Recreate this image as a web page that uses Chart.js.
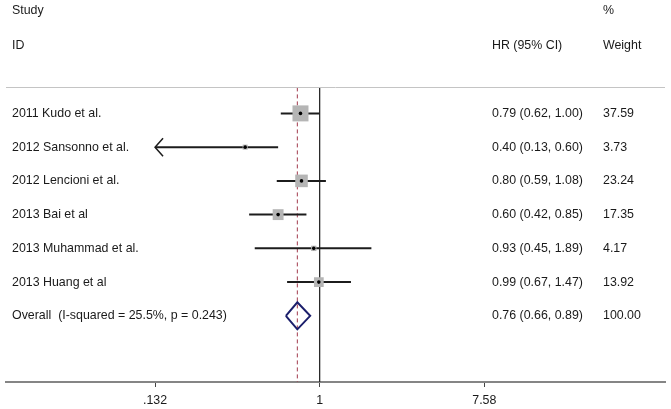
<!DOCTYPE html>
<html>
<head>
<meta charset="utf-8">
<script src="https://cdn.jsdelivr.net/npm/chart.js@4"></script>
<style>
  html, body { margin: 0; padding: 0; background: #fff; }
  #wrap { width: 671px; height: 409px; position: relative; }
</style>
</head>
<body>
<div id="wrap"><canvas id="forest"></canvas></div>
<script>
// study rows
const studies = [
  "2011 Kudo et al.",
  "2012 Sansonno et al.",
  "2012 Lencioni et al.",
  "2013 Bai et al",
  "2013 Muhammad et al.",
  "2013 Huang et al",
];
const hr = [0.79, 0.40, 0.80, 0.60, 0.93, 0.99];
const ciLow = [0.62, 0.13, 0.59, 0.42, 0.45, 0.67];
const ciHigh = [1.00, 0.60, 1.08, 0.85, 1.89, 1.47];
const weights = [37.59, 3.73, 23.24, 17.35, 4.17, 13.92];

// pooled estimate
const overallLabel = "Overall  (I-squared = 25.5%, p = 0.243)";
const overallHR = 0.76;
const overallLow = 0.66;
const overallHigh = 0.89;
const overallWeight = 100.0;

// x axis
const xTicks = [0.132, 1, 7.58];
const xTickLabels = [".132", "1", "7.58"];
const xMin = 0.0211;
const xMax = 70;

(function () {
  const FONT = '12.4px "Liberation Sans", Arial, sans-serif';
  const TEXT = "#1a1a1a";
  const clipLo = xTicks[0];
  const clipHi = xTicks[xTicks.length - 1];
  const overallRow = studies.length;
  const headerLineRow = -0.77;
  const bottomRow = 7.96;
  const maxSide = 16;
  const maxW = Math.max(...weights);

  const fmtCI = (e, lo, hi) => `${e.toFixed(2)} (${lo.toFixed(2)}, ${hi.toFixed(2)})`;

  const ciSets = studies.map((s, i) => ({
    label: "ci-" + i,
    data: [
      { x: Math.max(ciLow[i], clipLo), y: i },
      { x: Math.min(ciHigh[i], clipHi), y: i },
    ],
    showLine: true,
    borderColor: "#1c1c1c",
    borderWidth: 2,
    pointRadius: 0,
    order: 3,
  }));

  const datasets = [
    {
      label: "dots",
      data: hr.map((v, i) => ({ x: v, y: i })),
      pointStyle: "circle",
      pointRadius: 1.8,
      backgroundColor: "#000",
      borderWidth: 0,
      order: 1,
    },
    {
      label: "boxes",
      data: hr.map((v, i) => ({ x: v, y: i })),
      pointStyle: "rect",
      pointRadius: (ctx) => (maxSide * Math.sqrt(weights[ctx.dataIndex] / maxW)) / Math.SQRT2,
      backgroundColor: "#b5b5b5",
      borderWidth: 0,
      order: 2,
    },
    ...ciSets,
    {
      label: "diamond",
      data: [
        { x: overallLow, y: overallRow },
        { x: overallHR, y: overallRow - 0.4 },
        { x: overallHigh, y: overallRow },
        { x: overallHR, y: overallRow + 0.4 },
        { x: overallLow, y: overallRow },
      ],
      showLine: true,
      borderColor: "#1b1e6b",
      borderWidth: 2,
      pointRadius: 0,
      order: 4,
    },
    {
      label: "null",
      data: [{ x: 1, y: headerLineRow }, { x: 1, y: bottomRow }],
      showLine: true,
      borderColor: "#2a2a2a",
      borderWidth: 1.3,
      pointRadius: 0,
      order: 5,
    },
    {
      label: "pooled",
      data: [{ x: overallHR, y: headerLineRow }, { x: overallHR, y: bottomRow }],
      showLine: true,
      borderColor: "#a23a4c",
      borderWidth: 1,
      borderDash: [4, 3],
      pointRadius: 0,
      order: 6,
    },
  ];

  const textPlugin = {
    id: "forestText",
    afterDatasetsDraw(chart) {
      const { ctx, chartArea, scales } = chart;
      const x = scales.x;
      const y = scales.y;
      ctx.save();

      // header rule
      ctx.strokeStyle = "#c4c4c4";
      ctx.lineWidth = 1;
      ctx.beginPath();
      const hy = Math.round(y.getPixelForValue(headerLineRow)) + 0.5;
      ctx.moveTo(chartArea.left, hy);
      ctx.lineTo(chartArea.right, hy);
      ctx.stroke();

      // arrows where CI runs past the axis limits
      ctx.strokeStyle = "#1c1c1c";
      ctx.lineWidth = 1.5;
      studies.forEach((s, i) => {
        const py = y.getPixelForValue(i);
        if (ciLow[i] < clipLo) {
          const px = x.getPixelForValue(clipLo);
          ctx.beginPath();
          ctx.moveTo(px + 8, py - 9);
          ctx.lineTo(px, py);
          ctx.lineTo(px + 8, py + 9);
          ctx.stroke();
        }
        if (ciHigh[i] > clipHi) {
          const px = x.getPixelForValue(clipHi);
          ctx.beginPath();
          ctx.moveTo(px - 8, py - 9);
          ctx.lineTo(px, py);
          ctx.lineTo(px - 8, py + 9);
          ctx.stroke();
        }
      });

      ctx.font = FONT;
      ctx.fillStyle = TEXT;
      ctx.textBaseline = "middle";
      ctx.textAlign = "left";
      const colLabel = 12;
      const colCI = 492;
      const colW = 603;

      ctx.fillText("Study", colLabel, y.getPixelForValue(-3.04));
      ctx.fillText("%", colW, y.getPixelForValue(-3.04));
      ctx.fillText("ID", colLabel, y.getPixelForValue(-2));
      ctx.fillText("HR (95% CI)", colCI, y.getPixelForValue(-2));
      ctx.fillText("Weight", colW, y.getPixelForValue(-2));

      studies.forEach((s, i) => {
        const py = y.getPixelForValue(i);
        ctx.fillText(s, colLabel, py);
        ctx.fillText(fmtCI(hr[i], ciLow[i], ciHigh[i]), colCI, py);
        ctx.fillText(weights[i].toFixed(2), colW, py);
      });
      const oy = y.getPixelForValue(overallRow);
      ctx.fillText(overallLabel, colLabel, oy);
      ctx.fillText(fmtCI(overallHR, overallLow, overallHigh), colCI, oy);
      ctx.fillText(overallWeight.toFixed(2), colW, oy);
      ctx.restore();
    },
  };

  new Chart(document.getElementById("forest").getContext("2d"), {
    type: "scatter",
    data: { datasets },
    options: {
      responsive: true,
      maintainAspectRatio: false,
      animation: false,
      events: [],
      layout: { autoPadding: false, padding: { left: 6, right: 6, top: 0, bottom: 0 } },
      plugins: { legend: { display: false }, tooltip: { enabled: false } },
      scales: {
        x: {
          type: "logarithmic",
          min: xMin,
          max: xMax,
          bounds: "data",
          afterBuildTicks: (scale) => {
            scale.ticks = xTicks.map((v) => ({ value: v }));
          },
          afterFit: (scale) => {
            scale.height = 27;
          },
          ticks: {
            autoSkip: false,
            maxRotation: 0,
            minRotation: 0,
            padding: 6,
            color: TEXT,
            font: { family: '"Liberation Sans", Arial, sans-serif', size: 12.4 },
            callback: (v) => {
              const k = xTicks.indexOf(v);
              return k >= 0 ? xTickLabels[k] : "";
            },
          },
          grid: {
            drawOnChartArea: false,
            drawTicks: true,
            tickLength: 5,
            tickColor: "#444",
            tickWidth: 1,
          },
          border: { display: true, color: "#858585", width: 2 },
        },
        y: {
          type: "linear",
          reverse: true,
          min: -3.36,
          max: bottomRow,
          display: false,
        },
      },
    },
    plugins: [textPlugin],
  });
})();
</script>
</body>
</html>
